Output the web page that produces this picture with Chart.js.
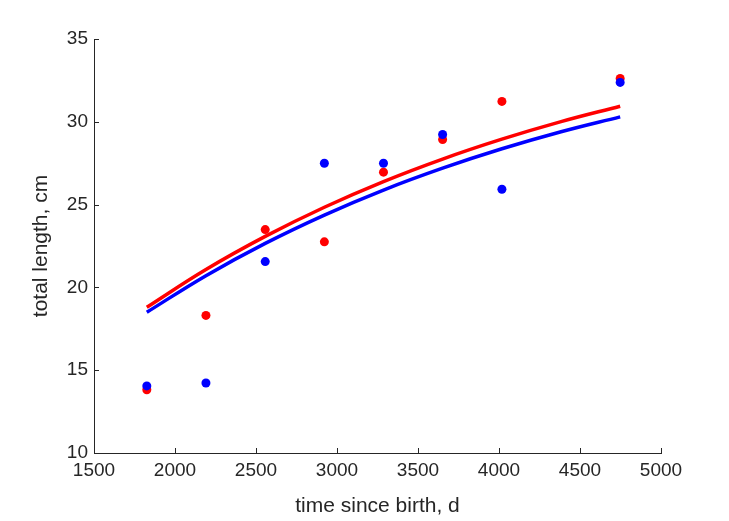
<!DOCTYPE html>
<html lang="en">
<head>
  <meta charset="UTF-8">
  <title>Growth Chart</title>
  <script src="https://cdn.jsdelivr.net/npm/chart.js"></script>
  <style>
    body {
      margin: 0;
      padding: 0;
      background: #ffffff;
    }

    .wrap {
      width: 729px;
      height: 521px;
    }
  </style>
</head>
<body>

  <div class="wrap">
    <canvas id="growthChart" width="729" height="521"></canvas>
  </div>

  <script>
    // observation times (days since birth)
    const days = [1826, 2191, 2557, 2922, 3287, 3652, 4018, 4748];

    // observed lengths
    const redObs = [13.82, 18.31, 23.49, 22.75, 26.96, 28.93, 31.23, 32.62];
    const blueObs = [14.05, 14.23, 21.56, 27.50, 27.50, 29.23, 25.93, 32.38];

    // fitted curves
    const curveDays = [1826, 2191, 2557, 2922, 3287, 3652, 4018, 4383, 4748];
    const redFit = [18.8, 21.08, 23.08, 24.84, 26.39, 27.75, 28.95, 30.01, 30.94];
    const blueFit = [18.5, 20.71, 22.66, 24.37, 25.88, 27.2, 28.37, 29.4, 30.3];

    const toXY = (xs, ys) => xs.map((x, i) => ({ x: x, y: ys[i] }));

    const axisColor = '#262626';
    const fontFamily = "'Liberation Sans', Arial, Helvetica, sans-serif";

    // matlab style ticks pointing into the plot
    const inwardTicks = {
      id: 'inwardTicks',
      afterDraw(chart) {
        const { ctx, chartArea, scales } = chart;
        ctx.save();
        ctx.strokeStyle = axisColor;
        ctx.lineWidth = 1;
        ctx.beginPath();
        scales.x.ticks.forEach(t => {
          const px = Math.round(scales.x.getPixelForValue(t.value)) + 0.5;
          ctx.moveTo(px, chartArea.bottom);
          ctx.lineTo(px, chartArea.bottom - 5);
        });
        scales.y.ticks.forEach(t => {
          const py = Math.round(scales.y.getPixelForValue(t.value)) + 0.5;
          ctx.moveTo(chartArea.left, py);
          ctx.lineTo(chartArea.left + 5, py);
        });
        ctx.stroke();
        ctx.restore();
      }
    };

    const ctx = document.getElementById('growthChart').getContext('2d');
    const growthChart = new Chart(ctx, {
      type: 'scatter',
      data: {
        datasets: [
          {
            label: 'blue observed',
            data: toXY(days, blueObs),
            backgroundColor: '#0000ff',
            borderColor: '#0000ff',
            pointRadius: 4.5,
            borderWidth: 0,
            order: 0
          },
          {
            label: 'red observed',
            data: toXY(days, redObs),
            backgroundColor: '#ff0000',
            borderColor: '#ff0000',
            pointRadius: 4.5,
            borderWidth: 0,
            order: 1
          },
          {
            label: 'red fit',
            data: toXY(curveDays, redFit),
            showLine: true,
            borderColor: '#ff0000',
            borderWidth: 3.5,
            pointRadius: 0,
            tension: 0.4,
            order: 2
          },
          {
            label: 'blue fit',
            data: toXY(curveDays, blueFit),
            showLine: true,
            borderColor: '#0000ff',
            borderWidth: 3.5,
            pointRadius: 0,
            tension: 0.4,
            order: 3
          }
        ]
      },
      options: {
        responsive: false,
        animation: false,
        layout: {
          padding: { left: 0, right: 68, top: 39, bottom: 0 }
        },
        plugins: {
          legend: { display: false },
          tooltip: { enabled: false }
        },
        scales: {
          x: {
            type: 'linear',
            min: 1500,
            max: 5000,
            afterFit: s => { s.height = 68; },
            grid: { drawOnChartArea: false, drawTicks: false },
            border: { display: true, color: axisColor, width: 1 },
            ticks: {
              stepSize: 500,
              padding: 6,
              color: axisColor,
              font: { family: fontFamily, size: 19 },
              maxRotation: 0,
              callback: v => String(v)
            },
            title: {
              display: true,
              text: 'time since birth, d',
              color: axisColor,
              font: { family: fontFamily, size: 21 },
              padding: { top: 0, bottom: 2 }
            }
          },
          y: {
            min: 10,
            max: 35,
            afterFit: s => { s.width = 94; },
            grid: { drawOnChartArea: false, drawTicks: false },
            border: { display: true, color: axisColor, width: 1 },
            ticks: {
              stepSize: 5,
              padding: 6,
              color: axisColor,
              font: { family: fontFamily, size: 19 },
              callback: v => String(v)
            },
            title: {
              display: true,
              text: 'total length, cm',
              color: axisColor,
              font: { family: fontFamily, size: 21 },
              padding: { top: 29, bottom: 0 }
            }
          }
        }
      },
      plugins: [inwardTicks]
    });
  </script>

</body>
</html>
